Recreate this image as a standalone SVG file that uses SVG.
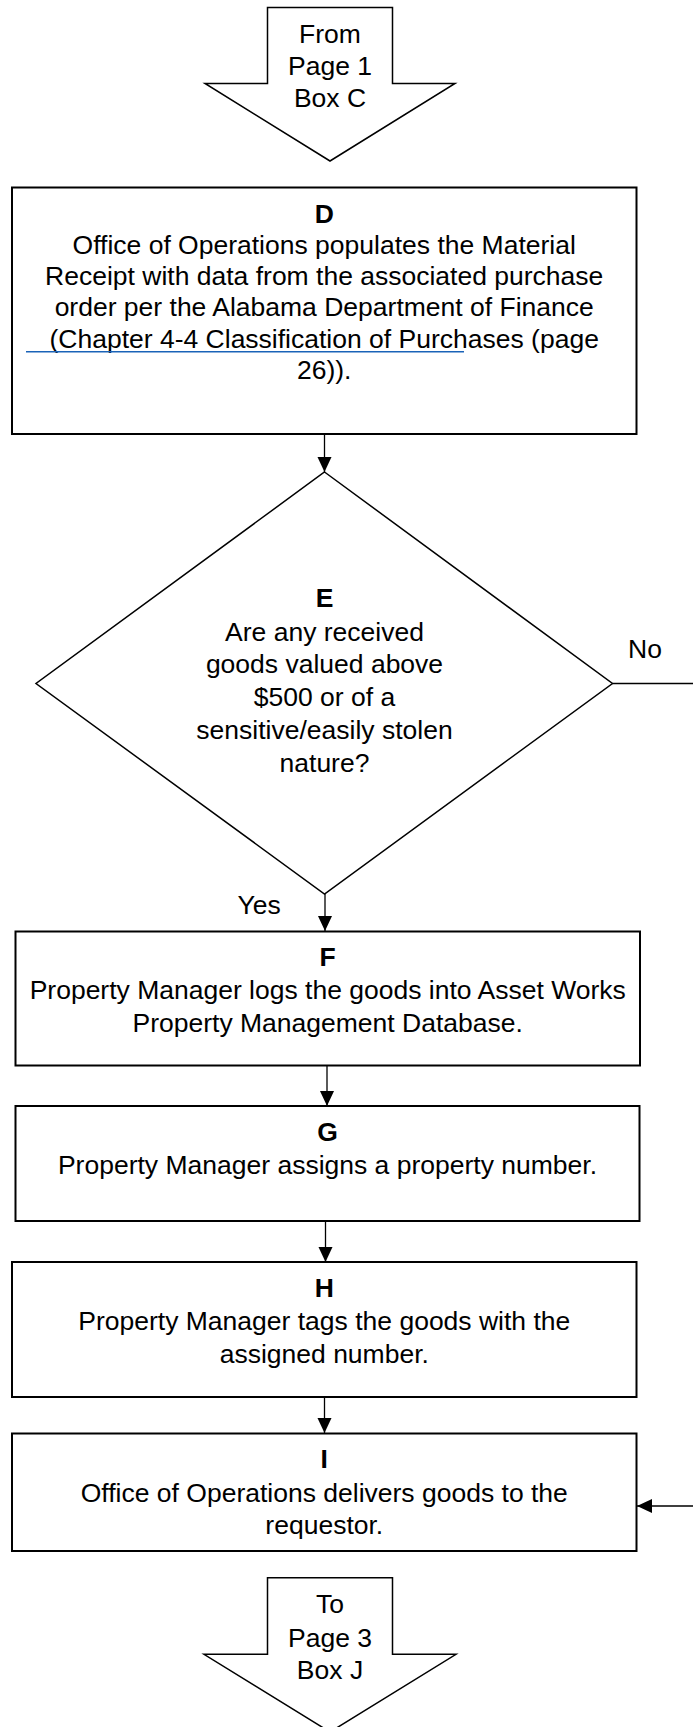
<svg xmlns="http://www.w3.org/2000/svg" width="693" height="1727" viewBox="0 0 693 1727">
<defs>
<marker id="ah" markerUnits="userSpaceOnUse" markerWidth="16" markerHeight="15" refX="15" refY="7" orient="auto">
<path d="M0,0 L15,7 L0,14 z" fill="#000"/>
</marker>
<style>
text{font-family:"Liberation Sans",Arial,sans-serif;font-size:26.5px;fill:#000;text-anchor:middle}
.b{font-weight:bold}
.l{text-anchor:start}
.box{fill:#fff;stroke:#000;stroke-width:2}
.shape{fill:#fff;stroke:#000;stroke-width:1.5}
.con{fill:none;stroke:#000;stroke-width:1.3}
</style>
</defs>
<rect width="693" height="1727" fill="#fff"/>

<g id="connectors">
<path class="con" d="M324.5,434 V472" marker-end="url(#ah)"/>
<path class="con" d="M325,894 V931" marker-end="url(#ah)"/>
<path class="con" d="M327,1066 V1106" marker-end="url(#ah)"/>
<path class="con" d="M325.5,1221 V1262" marker-end="url(#ah)"/>
<path class="con" d="M324.5,1397 V1433" marker-end="url(#ah)"/>
<path class="con" d="M612.5,683.5 H700 V1506 H637" marker-end="url(#ah)"/>
<text class="l" x="628" y="658">No</text>
<text class="l" x="237.5" y="913.5">Yes</text>
</g>

<g id="from-page1">
<polygon class="shape" points="267.5,7.5 392.5,7.5 392.5,83.5 455,83.5 330,161 205,83.5 267.5,83.5"/>
<text x="330" y="43.3">From</text>
<text x="330" y="75.3">Page 1</text>
<text x="330" y="107">Box C</text>
</g>

<g id="box-d">
<rect class="box" x="12" y="187.5" width="624.5" height="246.5"/>
<text class="b" x="324.2" y="222.5">D</text>
<text x="324.2" y="253.8">Office of Operations populates the Material</text>
<text x="324.2" y="285">Receipt with data from the associated purchase</text>
<text x="324.2" y="316.3">order per the Alabama Department of Finance</text>
<text x="324.2" y="347.6">(Chapter 4-4 Classification of Purchases (page</text>
<text x="324.2" y="378.9">26)).</text>
<line x1="26" y1="351.7" x2="464" y2="351.7" stroke="#1a63b8" stroke-width="1.6"/>
</g>

<g id="decision-e">
<polygon class="shape" points="324.5,472 612.5,683.5 324.5,894 36,683.5"/>
<text class="b" x="324.5" y="607">E</text>
<text x="324.5" y="640.5">Are any received</text>
<text x="324.5" y="673.3">goods valued above</text>
<text x="324.5" y="706.3">$500 or of a</text>
<text x="324.5" y="739.2">sensitive/easily stolen</text>
<text x="324.5" y="772">nature?</text>
</g>

<g id="box-f">
<rect class="box" x="15.5" y="931.5" width="624.5" height="134"/>
<text class="b" x="327.7" y="966.3">F</text>
<text x="327.7" y="999">Property Manager logs the goods into Asset Works</text>
<text x="327.7" y="1032">Property Management Database.</text>
</g>

<g id="box-g">
<rect class="box" x="15.5" y="1106" width="624" height="115"/>
<text class="b" x="327.5" y="1140.7">G</text>
<text x="327.5" y="1174">Property Manager assigns a property number.</text>
</g>

<g id="box-h">
<rect class="box" x="12" y="1262" width="624.5" height="135"/>
<text class="b" x="324.3" y="1297.3">H</text>
<text x="324.3" y="1330">Property Manager tags the goods with the</text>
<text x="324.3" y="1362.7">assigned number.</text>
</g>

<g id="box-i">
<rect class="box" x="12" y="1433.5" width="624.5" height="117.5"/>
<text class="b" x="324.3" y="1468.3">I</text>
<text x="324.3" y="1501.7">Office of Operations delivers goods to the</text>
<text x="324.3" y="1534">requestor.</text>
</g>

<g id="to-page3">
<polygon class="shape" points="267.5,1577.7 392.5,1577.7 392.5,1654.3 456,1654.3 330,1732 204,1654.3 267.5,1654.3"/>
<text x="330" y="1613.3">To</text>
<text x="330" y="1646.7">Page 3</text>
<text x="330" y="1678.5">Box J</text>
</g>
</svg>
